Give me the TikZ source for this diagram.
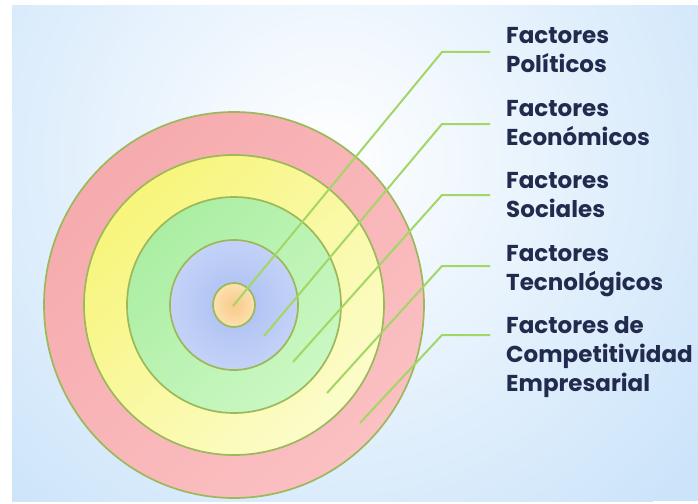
\documentclass[tikz,border=0pt]{standalone}
\usepackage{fontspec}
\setmainfont{Poppins}
\definecolor{bg_blue}{HTML}{CCE4FA}
\definecolor{ring_line}{HTML}{9CB95A}
\definecolor{lead_green}{HTML}{A2D765}
\definecolor{label_navy}{HTML}{222B4E}
\definecolor{red_dark}{HTML}{F6ABAE}
\definecolor{red_light}{HTML}{FBC0C2}
\definecolor{yel_dark}{HTML}{F7F57A}
\definecolor{yel_light}{HTML}{FCFCCB}
\definecolor{grn_dark}{HTML}{ABEEA3}
\definecolor{grn_light}{HTML}{CBF8C3}
\definecolor{blu_dark}{HTML}{A9BEF2}
\definecolor{blu_light}{HTML}{C4D2F7}
\definecolor{org_dark}{HTML}{F8C98B}
\definecolor{org_light}{HTML}{FCE1AE}
\begin{document}
\begin{tikzpicture}[x=1pt, y=-1pt,
        ring/.style={draw=ring_line, line width=1.7pt},
        leader/.style={draw=lead_green, line width=2pt},
        factor/.style={anchor=west, inner xsep=16pt, inner ysep=0pt, align=left, text depth=0pt,
            font=\bfseries\fontsize{23}{29}\selectfont, text=label_navy}]
    \useasboundingbox (0,0) rectangle (698,503);
    \fill[white] (0,0) rectangle (698,503);
    \begin{scope}
        \clip (12,6) rectangle (698,501);
        \fill[bg_blue] (12,6) rectangle (698,501);
        \shade[inner color=white, outer color=bg_blue] (330,160) circle (470pt);
    \end{scope}

    \coordinate (core) at (234,305);
    \shadedraw[ring, top color=red_dark, bottom color=red_light, shading angle=45]
        (core) ellipse [x radius=190pt, y radius=193pt];
    \shadedraw[ring, top color=yel_dark, bottom color=yel_light, shading angle=45]
        (core) ellipse [x radius=150pt, y radius=150pt];
    \shadedraw[ring, top color=grn_dark, bottom color=grn_light, shading angle=45]
        (core) ellipse [x radius=107pt, y radius=108pt];
    \shadedraw[ring, inner color=blu_dark, outer color=blu_light]
        (core) ellipse [x radius=64pt, y radius=65pt];
    \shadedraw[ring, inner color=org_dark, outer color=org_light]
        (core) ellipse [x radius=21pt, y radius=22pt];

    \foreach \n/\sx/\sy/\ky/\ty/\txt in {
            pol/233/306/52/50/{Factores\\Políticos},
            eco/264/336/124/123/{Factores\\Económicos},
            soc/293/362/195/195/{Factores\\Sociales},
            tec/327/393/266/268/{Factores\\Tecnológicos},
            com/360/423/335/354/{Factores de\\Competitividad\\Empresarial}} {
        \coordinate (s_\n) at (\sx,\sy);
        \coordinate (k_\n) at (442,\ky);
        \node[factor] (t_\n) at (490,\ty) {\txt};
        \draw[leader] (s_\n) -- (k_\n) -- (k_\n -| t_\n.west);
    }
\end{tikzpicture}
\end{document}
